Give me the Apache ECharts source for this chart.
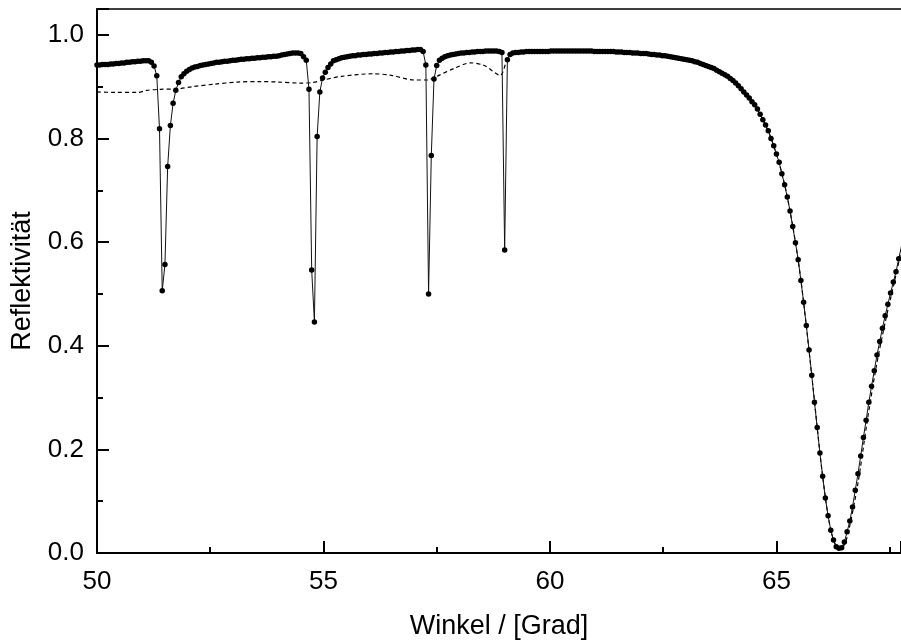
<!DOCTYPE html>
<html>
<head>
<meta charset="utf-8">
<script src="https://cdn.jsdelivr.net/npm/echarts@6/dist/echarts.min.js"></script>
<style>
html,body{margin:0;padding:0;background:#fff;}
#chart{width:901px;height:641px;}
</style>
</head>
<body>
<div id="chart"></div>
<script>
// Measured reflectivity (dots + solid line)
var angles = [
50.00,50.06,50.12,50.18,50.24,50.30,50.36,50.42,50.48,50.54,
50.60,50.66,50.72,50.78,50.84,50.90,50.96,51.02,51.08,51.14,
51.20,51.26,51.32,51.38,51.44,51.50,51.56,51.62,51.68,51.74,
51.80,51.86,51.92,51.98,52.04,52.10,52.16,52.22,52.28,52.34,
52.40,52.46,52.52,52.58,52.64,52.70,52.76,52.82,52.88,52.94,
53.00,53.06,53.12,53.18,53.24,53.30,53.36,53.42,53.48,53.54,
53.60,53.66,53.72,53.78,53.84,53.90,53.96,54.02,54.08,54.14,
54.20,54.26,54.32,54.38,54.44,54.50,54.56,54.62,54.68,54.74,
54.80,54.86,54.92,54.98,55.04,55.10,55.16,55.22,55.28,55.34,
55.40,55.46,55.52,55.58,55.64,55.70,55.76,55.82,55.88,55.94,
56.00,56.06,56.12,56.18,56.24,56.30,56.36,56.42,56.48,56.54,
56.60,56.66,56.72,56.78,56.84,56.90,56.96,57.02,57.08,57.14,
57.20,57.26,57.32,57.38,57.44,57.50,57.56,57.62,57.68,57.74,
57.80,57.86,57.92,57.98,58.04,58.10,58.16,58.22,58.28,58.34,
58.40,58.46,58.52,58.58,58.64,58.70,58.76,58.82,58.88,58.94,
59.00,59.06,59.12,59.18,59.24,59.30,59.36,59.42,59.48,59.54,
59.60,59.66,59.72,59.78,59.84,59.90,59.96,60.02,60.08,60.14,
60.20,60.26,60.32,60.38,60.44,60.50,60.56,60.62,60.68,60.74,
60.80,60.86,60.92,60.98,61.04,61.10,61.16,61.22,61.28,61.34,
61.40,61.46,61.52,61.58,61.64,61.70,61.76,61.82,61.88,61.94,
62.00,62.06,62.12,62.18,62.24,62.30,62.36,62.42,62.48,62.54,
62.60,62.66,62.72,62.78,62.84,62.90,62.96,63.02,63.08,63.14,
63.20,63.26,63.32,63.38,63.44,63.50,63.56,63.62,63.68,63.74,
63.80,63.86,63.92,63.98,64.04,64.10,64.16,64.22,64.28,64.34,
64.40,64.46,64.52,64.58,64.64,64.70,64.76,64.82,64.88,64.94,
65.00,65.06,65.12,65.18,65.24,65.30,65.36,65.42,65.48,65.54,
65.60,65.66,65.72,65.78,65.84,65.90,65.96,66.02,66.08,66.14,
66.20,66.26,66.32,66.38,66.44,66.50,66.56,66.62,66.68,66.74,
66.80,66.86,66.92,66.98,67.04,67.10,67.16,67.22,67.28,67.34,
67.40,67.46,67.52,67.58,67.64,67.70,67.76
];
var reflectivity = [
.942,.942,.943,.943,.943,.944,.944,.945,.945,.946,
.946,.947,.947,.948,.948,.949,.949,.950,.950,.950,
.947,.940,.921,.819,.506,.557,.746,.825,.868,.893,
.908,.919,.925,.930,.933,.936,.938,.939,.941,.942,
.943,.944,.945,.946,.947,.947,.948,.949,.949,.950,
.951,.951,.952,.953,.953,.954,.954,.955,.955,.956,
.956,.957,.957,.958,.958,.959,.959,.960,.961,.962,
.963,.964,.965,.965,.965,.964,.958,.951,.895,.546,
.446,.804,.890,.917,.928,.937,.944,.950,.952,.954,
.956,.957,.958,.959,.960,.960,.961,.961,.962,.962,
.963,.963,.964,.964,.965,.965,.966,.966,.967,.967,
.968,.968,.969,.969,.970,.970,.971,.971,.972,.972,
.968,.942,.500,.767,.915,.941,.951,.955,.958,.960,
.961,.962,.963,.964,.965,.965,.966,.966,.967,.967,
.968,.968,.968,.969,.969,.969,.969,.969,.968,.966,
.585,.952,.962,.965,.966,.966,.967,.967,.968,.968,
.968,.968,.968,.968,.968,.968,.968,.969,.969,.969,
.969,.969,.969,.969,.969,.969,.969,.969,.969,.969,
.969,.969,.969,.968,.968,.968,.968,.968,.968,.968,
.968,.967,.967,.967,.966,.966,.966,.965,.965,.965,
.964,.964,.964,.963,.962,.962,.961,.961,.960,.960,
.959,.958,.957,.956,.955,.954,.953,.952,.951,.950,
.948,.947,.945,.943,.941,.939,.937,.935,.932,.929,
.926,.923,.920,.916,.912,.907,.902,.896,.890,.884,
.878,.871,.865,.857,.847,.836,.826,.815,.800,.786,
.770,.754,.732,.711,.687,.660,.630,.599,.566,.526,
.484,.439,.392,.343,.291,.242,.193,.148,.106,.072,
.044,.025,.012,.009,.010,.021,.041,.062,.089,.121,
.153,.187,.223,.256,.291,.322,.352,.382,.408,.434,
.458,.480,.502,.523,.543,.568,.592
];
// Fitted curve (dashed)
var fitAngles = [
50.00,50.40,50.90,51.10,51.40,51.80,52.10,52.60,53.10,53.60,
54.00,54.50,54.75,55.00,55.40,56.10,56.50,57.00,57.30,57.50,
57.90,58.25,58.55,58.90,59.05,59.20,60.00,61.00,62.00,62.60,
63.20,63.60,64.00,64.30,64.60,64.90,65.20,65.50,65.80,66.00,
66.20,66.38,66.50,66.60,66.80,67.00,67.20,67.40,67.60,67.76
];
var fitReflectivity = [
.890,.889,.889,.893,.895,.896,.900,.905,.909,.910,
.909,.907,.908,.913,.920,.925,.922,.913,.913,.920,
.936,.946,.941,.922,.950,.964,.968,.968,.964,.959,
.948,.936,.915,.888,.853,.796,.704,.553,.326,.163,
.044,.008,.016,.045,.135,.252,.358,.445,.522,.585
];
var xTicks = [50, 55, 60, 65];
var yTicks = [0.0, 0.2, 0.4, 0.6, 0.8, 1.0];

function pairs(xs, ys){ var o=[]; for(var i=0;i<xs.length;i++) o.push([xs[i], ys[i]]); return o; }

var FONT = 'Liberation Sans';
var chart = echarts.init(document.getElementById('chart'), null, {renderer:'canvas'});
var X_MIN = 50, X_MAX = 67.75, Y_MIN = 0, Y_MAX = 1.05;
var lineCol = '#000';

chart.setOption({
  animation: false,
  backgroundColor: '#fff',
  grid: {left: 97, right: 0, top: 9, bottom: 88, containLabel: false, outerBoundsMode: 'none'},
  xAxis: [
    {
      type: 'value', min: X_MIN, max: X_MAX, interval: 5, position: 'bottom',
      name: 'Winkel / [Grad]', nameLocation: 'middle', nameGap: 60,
      nameTextStyle: {fontFamily: FONT, fontSize: 27, color: '#000'},
      axisLine: {show: true, onZero: false, lineStyle: {color: lineCol, width: 2}},
      axisTick: {show: true, inside: true, length: 12, lineStyle: {color: lineCol, width: 2}},
      axisLabel: {fontFamily: FONT, fontSize: 26, color: '#000', margin: 16,
        formatter: function(v){ return xTicks.indexOf(Math.round(v*100)/100) >= 0 ? String(v) : ''; }},
      splitLine: {show: false}
    },
    {
      type: 'value', min: X_MIN, max: X_MAX, interval: 2.5, position: 'bottom',
      axisLine: {show: false, onZero: false},
      axisTick: {show: true, inside: true, length: 6, lineStyle: {color: lineCol, width: 2}},
      axisLabel: {show: false}, splitLine: {show: false}
    },
    {
      type: 'value', min: X_MIN, max: X_MAX, position: 'top',
      axisLine: {show: true, onZero: false, lineStyle: {color: lineCol, width: 1.5}},
      axisTick: {show: false}, axisLabel: {show: false}, splitLine: {show: false}
    }
  ],
  yAxis: [
    {
      type: 'value', min: Y_MIN, max: Y_MAX, interval: 0.2, position: 'left',
      name: 'Reflektivität', nameLocation: 'middle', nameGap: 61, nameRotate: 90,
      nameTextStyle: {fontFamily: FONT, fontSize: 27, color: '#000'},
      axisLine: {show: true, onZero: false, lineStyle: {color: lineCol, width: 2}},
      axisTick: {show: true, inside: true, length: 12, lineStyle: {color: lineCol, width: 2}},
      axisLabel: {fontFamily: FONT, fontSize: 26, color: '#000', margin: 13, padding: [9,0,0,0],
        formatter: function(v){
          var r = Math.round(v*10)/10;
          for (var i=0;i<yTicks.length;i++) if (Math.abs(yTicks[i]-v) < 1e-6) return r.toFixed(1);
          return '';
        }},
      splitLine: {show: false}
    },
    {
      type: 'value', min: Y_MIN, max: Y_MAX, interval: 0.1, position: 'left',
      axisLine: {show: false, onZero: false},
      axisTick: {show: true, inside: true, length: 6, lineStyle: {color: lineCol, width: 2}},
      axisLabel: {show: false}, splitLine: {show: false}
    }
  ],
  series: [
    {
      type: 'line', xAxisIndex: 0, yAxisIndex: 0,
      data: pairs(fitAngles, fitReflectivity),
      showSymbol: false, smooth: 0.3, clip: true,
      lineStyle: {color: '#000', width: 1.2, type: [4, 3]},
      z: 2
    },
    {
      type: 'line', xAxisIndex: 0, yAxisIndex: 0,
      data: pairs(angles, reflectivity),
      symbol: 'circle', symbolSize: 5.5, showSymbol: true, showAllSymbol: true, clip: true,
      itemStyle: {color: '#000'},
      lineStyle: {color: '#111', width: 1},
      z: 3
    }
  ]
});
</script>
</body>
</html>
